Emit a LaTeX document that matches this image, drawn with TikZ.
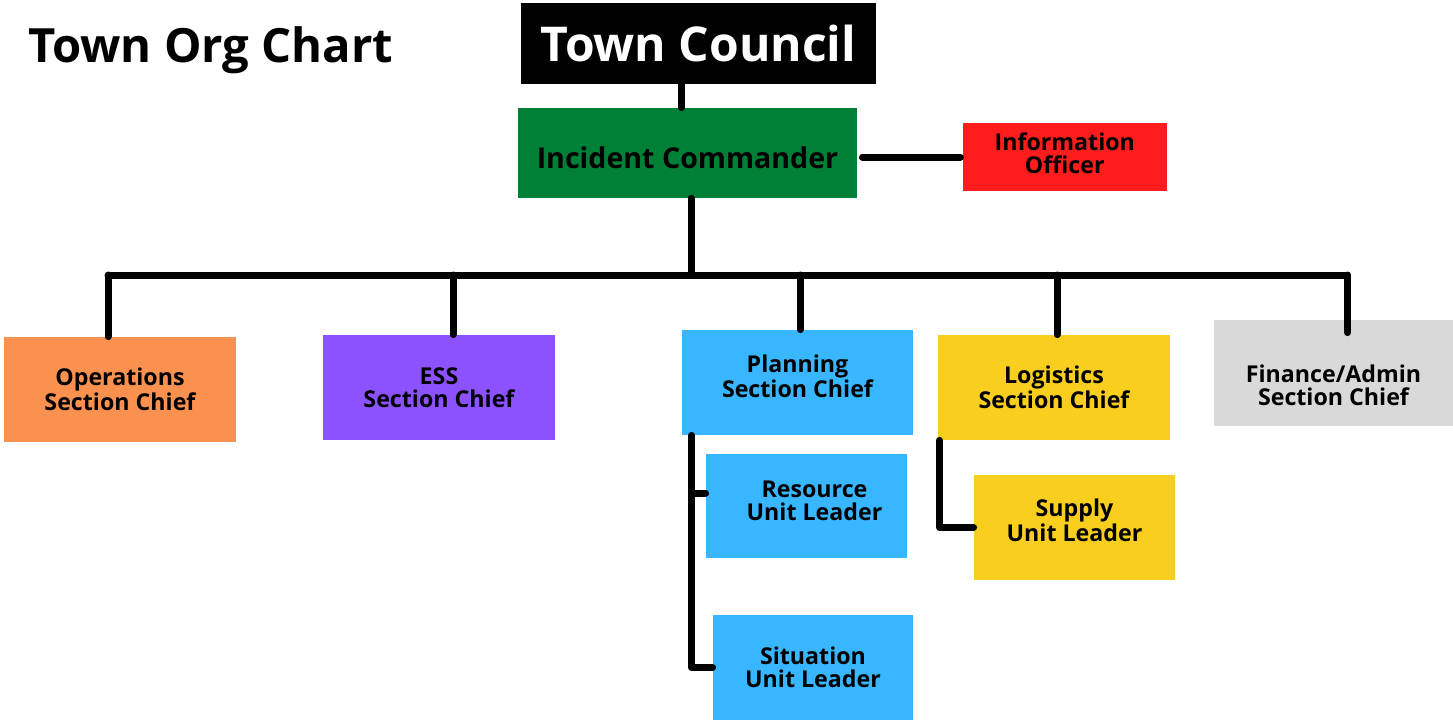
\documentclass[tikz,border=0pt]{standalone}
\usepackage{fontspec}
\setmainfont{Open Sans}
\usetikzlibrary{positioning}
\definecolor{icgreen}{HTML}{008037}
\definecolor{infored}{HTML}{FF1C1C}
\definecolor{opsorange}{HTML}{FB914E}
\definecolor{esspurple}{HTML}{8C52FF}
\definecolor{planblue}{HTML}{38B6FF}
\definecolor{logiyellow}{HTML}{FACE1E}
\definecolor{fingrey}{HTML}{D9D9D9}
\tikzset{box/.style={inner sep=0pt,align=center,font=\bfseries\fontsize{11.6}{11.5}\selectfont},
         chief/.style={box,minimum width=116pt,minimum height=52.5pt},
         unit/.style={box,minimum width=100.5pt,minimum height=52.5pt},
         conn/.style={line width=3.5pt,line cap=round,line join=round}
}

\begin{document}
\begin{tikzpicture}[x=0.5pt,y=-0.5pt]
\useasboundingbox (0,0) rectangle (1453,723);

\node[anchor=west,font=\bfseries\fontsize{23.6}{28}\selectfont] (title) at (21,50) {Town Org Chart};
\node[box,fill=black,text=white,minimum width=177.5pt,minimum height=40.5pt,font=\bfseries\fontsize{24}{30}\selectfont] (council) at (698.5,43.5) {Town Council};
\node[box,fill=icgreen,minimum width=169.5pt,minimum height=45pt,text height=15.5pt,text depth=0pt,font=\bfseries\fontsize{14.3}{16}\selectfont] (ic) at (687.5,153) {Incident Commander};
\node[box,fill=infored,minimum width=102pt,minimum height=34pt,text depth=4pt,right=52.5pt of ic,yshift=-2pt] (info) {Information\\Officer};

\node[chief,fill=opsorange] (ops) at (120,389.5) {Operations\\Section Chief};
\node[chief,fill=esspurple] (ess) at (439,387.5) {ESS\\Section Chief};
\node[chief,fill=planblue,minimum width=115.5pt,text depth=6pt] (plan) at (797.5,382.5) {Planning\\Section Chief};
\node[chief,fill=logiyellow] (logi) at (1054,387.5) {Logistics\\Section Chief};
\node[chief,fill=fingrey,minimum width=119.5pt,minimum height=53pt,text height=32pt,text depth=0pt] (fin) at (1333.5,373) {Finance/Admin\\Section Chief};

\node[unit,fill=planblue,minimum height=52pt,text depth=5pt] (res) at (806.5,506) {\hspace*{8pt}Resource\\\hspace*{8pt}Unit Leader};
\node[unit,fill=planblue,minimum width=100pt] (sit) at (813,667.5) {Situation\\Unit Leader};
\node[unit,fill=logiyellow,text depth=7pt] (supply) at (1074.5,527.5) {Supply\\Unit Leader};

\coordinate (bus) at (691,275);
\coordinate (councildrop) at ([xshift=-3pt]ic.north);
\coordinate (opsdrop) at ([xshift=-6pt]ops.north);
\coordinate (essdrop) at ([xshift=7pt]ess.north);
\coordinate (plandrop) at ([xshift=1.5pt]plan.north);
\coordinate (logidrop) at ([xshift=1.5pt]logi.north);
\coordinate (findrop) at ([xshift=7pt,yshift=-6.5pt]fin.north);
\coordinate (planspine) at ([xshift=5pt]plan.south west);
\coordinate (logispine) at ([xshift=1pt]logi.south west);

\draw[conn] (councildrop) -- (councildrop |- council.south);
\draw[conn,shorten <=1pt,shorten >=2.5pt] (info.west) -- (info.west -| ic.east);
\draw[conn] (bus |- ic.south) -- (bus);
\draw[conn] (opsdrop |- bus) -- (findrop |- bus);
\foreach \d in {opsdrop,essdrop,plandrop,logidrop,findrop}
  \draw[conn] (\d) -- (\d |- bus);

\draw[conn] (planspine) |- (sit.west);
\draw[conn] ([yshift=6.5pt]planspine |- res.west) -- ([yshift=6.5pt]res.west);
\draw[conn] (logispine) |- (supply.west);

\end{tikzpicture}
\end{document}
